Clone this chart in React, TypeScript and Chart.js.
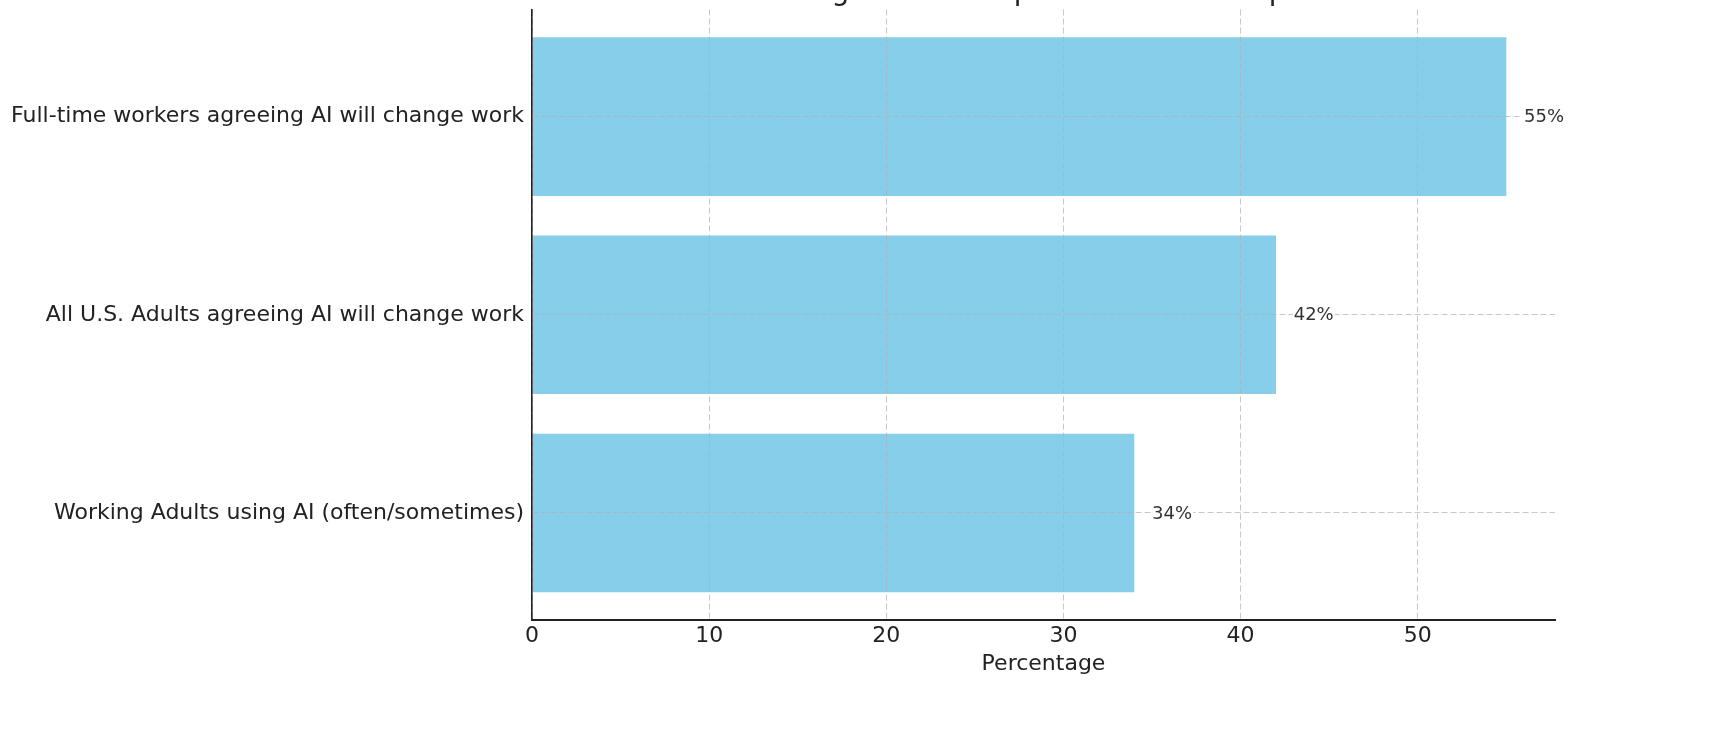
import { useEffect, useRef } from 'react';
import { Chart, registerables } from 'chart.js';

Chart.register(...registerables);

const TITLE = 'AI Usage and Perceptions in the Workplace';
const CATEGORIES = [
  'Full-time workers agreeing AI will change work',
  'All U.S. Adults agreeing AI will change work',
  'Working Adults using AI (often/sometimes)',
];
const VALUES = [55, 42, 34];
const X_TICKS = [0, 10, 20, 30, 40, 50];
const X_LABEL = 'Percentage';
const X_MAX = 57.75;
const Y_MIN = -0.54;
const Y_MAX = 2.54;

const FONT = 'DejaVu Sans';
const BAR_COLOR = '#87CEEB';
const GRID_COLOR = 'rgba(176,176,176,0.7)';
const TEXT_COLOR = '#222222';

const OFFSET_TOP = 30;

const valueLabels = {
  id: 'valueLabels',
  afterDraw(chart: any) {
    const ctx = chart.ctx;
    const xScale = chart.scales.x;
    const meta = chart.getDatasetMeta(0);
    ctx.save();
    ctx.font = `18px "${FONT}"`;
    ctx.textAlign = 'left';
    ctx.textBaseline = 'middle';
    meta.data.forEach((bar: any, i: number) => {
      const v = VALUES[i];
      const text = `${v}%`;
      const x = xScale.getPixelForValue(v + 1);
      const y = bar.y;
      const w = ctx.measureText(text).width;
      ctx.fillStyle = '#ffffff';
      ctx.fillRect(x - 1, y - 10, w + 2, 20);
      ctx.fillStyle = '#333333';
      ctx.fillText(text, x, y + 1);
    });
    ctx.restore();
  },
};

export default function App() {
  const ref = useRef<HTMLCanvasElement | null>(null);

  useEffect(() => {
    if (!ref.current) return;
    Chart.defaults.font.family = FONT;
    const chart = new Chart(ref.current, {
      type: 'bar',
      data: {
        datasets: [
          {
            data: VALUES.map((v, i) => ({ x: v, y: i })),
            backgroundColor: BAR_COLOR,
            borderWidth: 0,
            barPercentage: 0.8,
            categoryPercentage: 1,
          },
        ],
      },
      options: {
        indexAxis: 'y',
        animation: false,
        responsive: false,
        devicePixelRatio: 1,
        layout: { padding: { left: 0, right: 162, top: 0, bottom: 64 } },
        plugins: {
          legend: { display: false },
          tooltip: { enabled: false },
          title: {
            display: true,
            text: TITLE,
            fullSize: false,
            color: TEXT_COLOR,
            font: { size: 28, weight: 'normal', family: FONT },
            padding: { top: 6, bottom: 0 },
          },
        },
        scales: {
          x: {
            type: 'linear',
            position: 'bottom',
            min: 0,
            max: X_MAX,
            afterBuildTicks: (scale: any) => {
              scale.ticks = X_TICKS.map((v) => ({ value: v }));
            },
            afterFit: (scale: any) => {
              scale.height = 57;
            },
            ticks: {
              color: TEXT_COLOR,
              font: { size: 22, family: FONT },
              padding: 3,
              maxRotation: 0,
              callback: (v: any) => String(v),
            },
            grid: {
              color: GRID_COLOR,
              lineWidth: 1,
              drawTicks: false,
              z: 1,
            },
            border: { display: true, color: '#222222', width: 2, dash: [6, 3], z: 2 },
            title: {
              display: true,
              text: X_LABEL,
              color: TEXT_COLOR,
              font: { size: 22, family: FONT },
              padding: { top: 0, bottom: 0 },
            },
          },
          y: {
            type: 'linear',
            reverse: true,
            offset: false,
            min: Y_MIN,
            max: Y_MAX,
            afterBuildTicks: (scale: any) => {
              scale.ticks = CATEGORIES.map((_, i) => ({ value: i }));
            },
            afterFit: (scale: any) => {
              scale.width = 532;
            },
            ticks: {
              color: TEXT_COLOR,
              font: { size: 22, family: FONT },
              padding: 8,
              callback: (v: any) => CATEGORIES[Number(v)] ?? '',
            },
            grid: {
              color: GRID_COLOR,
              lineWidth: 1,
              drawTicks: false,
              offset: false,
              z: 1,
            },
            border: { display: true, color: '#222222', width: 1.6, dash: [6, 3], z: 2 },
          },
        },
      },
      plugins: [valueLabels],
    } as any);
    return () => chart.destroy();
  }, []);

  return (
    <div
      style={{
        position: 'fixed',
        top: -OFFSET_TOP,
        left: 0,
        width: 1717,
        height: 741 + OFFSET_TOP,
        background: '#ffffff',
      }}
    >
      <canvas ref={ref} width={1717} height={741 + OFFSET_TOP} style={{ display: 'block' }} />
    </div>
  );
}
